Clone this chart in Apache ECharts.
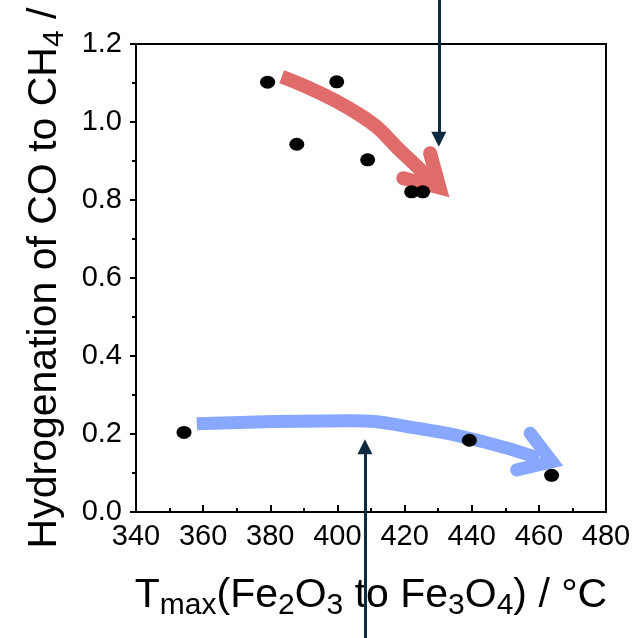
<!DOCTYPE html>
<html>
<head>
<meta charset="utf-8">
<script src="https://cdn.jsdelivr.net/npm/echarts@6/dist/echarts.min.js"></script>
<style>html,body{margin:0;padding:0;background:#fff;}#c{width:635px;height:638px;}</style>
</head>
<body>
<div id="c"></div>
<script>
// Measured points: Tmax (°C) vs hydrogenation ratio
const tmax  = [379.2, 387.9, 399.8, 409.0, 422.1, 425.4, 354.3, 439.3, 463.8];
const ratio = [1.102, 0.943, 1.103, 0.903, 0.821, 0.821, 0.204, 0.184, 0.094];

// Annotation arrows (data coordinates)
const redBodyX = [383.4, 406.7, 420.6, 428.5];
const redBodyY = [1.116, 1.018, 0.911, 0.845];
const redHead  = [[419.6, 0.856], [430.4, 0.832], [427.6, 0.920]];

const blueBodyX = [358.1, 403.7, 423.6, 443.5, 460.0];
const blueBodyY = [0.226, 0.234, 0.215, 0.180, 0.138];
const blueHead  = [[457.4, 0.202], [463.9, 0.129], [453.4, 0.108]];

const darkArrows = [
  [[430.2, 1.32], [430.2, 0.956]],
  [[408.2, -0.33], [408.2, 0.167]]
];

const FONT = 'Liberation Sans, Arial, sans-serif';
const zip = (a, b) => a.map((v, i) => [v, b[i]]);

const richX = {
  n: { fontSize: 41, fontFamily: FONT, color: '#000', lineHeight: 50, verticalAlign: 'middle' },
  s: { fontSize: 30, fontFamily: FONT, color: '#000', lineHeight: 26, verticalAlign: 'bottom' }
};
const richY = {
  n: { fontSize: 41, fontFamily: FONT, color: '#000', lineHeight: 50, verticalAlign: 'middle' },
  s: { fontSize: 30, fontFamily: FONT, color: '#000', lineHeight: 26, verticalAlign: 'bottom' }
};

const chart = echarts.init(document.getElementById('c'), null, { renderer: 'canvas' });
chart.setOption({
  backgroundColor: '#fff',
  animation: false,
  grid: {
    left: 136, right: 29, top: 44, bottom: 126,
    containLabel: false, outerBoundsMode: 'none',
    show: true, borderColor: '#000', borderWidth: 2, backgroundColor: 'transparent'
  },
  xAxis: {
    type: 'value', min: 340, max: 480, interval: 20,
    name: '{n|T}{s|max}{n|(Fe}{s|2}{n|O}{s|3}{n| to Fe}{s|3}{n|O}{s|4}{n|) / °C}',
    nameLocation: 'middle', nameGap: 59,
    nameTextStyle: { rich: richX },
    axisLine: { onZero: false, lineStyle: { color: '#000', width: 2 } },
    axisTick: { inside: true, length: 7, lineStyle: { color: '#000', width: 2 } },
    minorTick: { show: true, splitNumber: 2, length: 4, lineStyle: { color: '#000', width: 2 } },
    axisLabel: { fontSize: 29, fontFamily: FONT, color: '#000', margin: 10 },
    splitLine: { show: false }
  },
  yAxis: {
    type: 'value', min: 0, max: 1.2, interval: 0.2,
    name: '{n|Hydrogenation of CO to CH}{s|4}{n| /}',
    nameLocation: 'middle', nameGap: 66,
    nameTextStyle: { rich: richY },
    axisLine: { onZero: false, lineStyle: { color: '#000', width: 2 } },
    axisTick: { inside: false, length: 6, lineStyle: { color: '#000', width: 2 } },
    minorTick: { show: true, splitNumber: 2, length: 4, lineStyle: { color: '#000', width: 2 } },
    axisLabel: { fontSize: 29, fontFamily: FONT, color: '#000', margin: 14, formatter: v => v.toFixed(1) },
    splitLine: { show: false }
  },
  series: [
    {
      type: 'line', data: zip(redBodyX, redBodyY), smooth: 0.5, symbol: 'none', z: 2,
      lineStyle: { color: '#E06B6B', width: 14, cap: 'butt', join: 'round' }
    },
    {
      type: 'line', data: redHead, symbol: 'none', z: 2,
      lineStyle: { color: '#E06B6B', width: 14, cap: 'round', join: 'miter' }
    },
    {
      type: 'line', data: zip(blueBodyX, blueBodyY), smooth: 0.5, symbol: 'none', z: 2,
      lineStyle: { color: '#88A8FF', width: 13, cap: 'butt', join: 'round' }
    },
    {
      type: 'line', data: blueHead, symbol: 'none', z: 2,
      lineStyle: { color: '#88A8FF', width: 13, cap: 'round', join: 'miter' }
    },
    {
      type: 'lines', coordinateSystem: 'cartesian2d', clip: false, z: 3,
      symbol: ['none', 'triangle'], symbolSize: [16, 15],
      lineStyle: { color: '#0E2A3F', width: 3, opacity: 1, curveness: 0 },
      data: darkArrows.map(c => ({ coords: c }))
    },
    {
      type: 'scatter', data: zip(tmax, ratio), symbol: 'circle', symbolSize: [15, 13], z: 5,
      itemStyle: { color: '#000', opacity: 1 }
    }
  ]
});
</script>
</body>
</html>
